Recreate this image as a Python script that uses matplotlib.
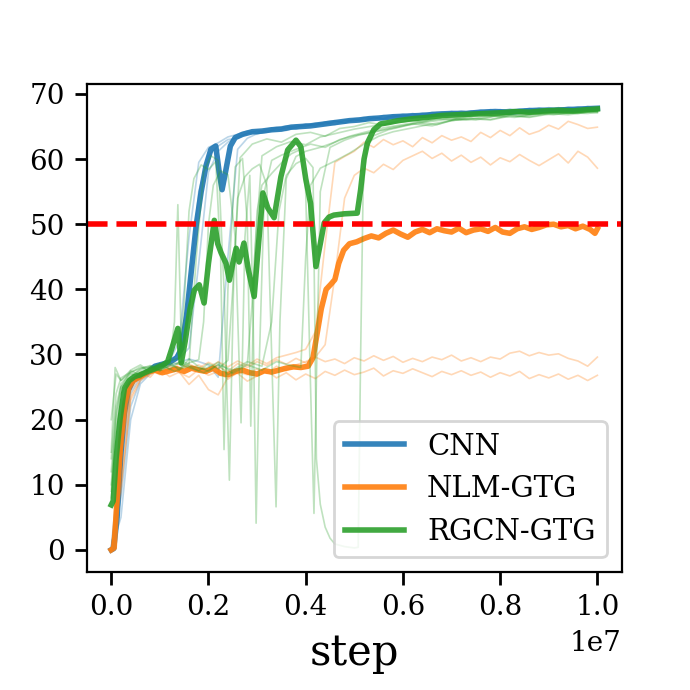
import numpy as np
import matplotlib
matplotlib.use("Agg")
import matplotlib.pyplot as plt

plt.rcParams['font.family'] = ['DejaVu Serif']

# ---------------- data (x in units of 1e7 steps) ----------------
grid = [0.00, 0.02, 0.04, 0.06, 0.08, 0.10, 0.12, 0.14, 0.16, 0.18, 0.20, 0.22, 0.24,
        0.26, 0.28, 0.30, 0.32, 0.34, 0.36, 0.38, 0.40, 0.42, 0.44, 0.46, 0.48, 0.50,
        0.52, 0.54, 0.56, 0.58, 0.60, 0.62, 0.64, 0.66, 0.68, 0.70, 0.72, 0.74, 0.76,
        0.78, 0.80, 0.82, 0.84, 0.86, 0.88, 0.90, 0.92, 0.94, 0.96, 0.98, 1.00]

cnn_run1 = [0.3, 16, 25.5, 26.8, 27.9, 28.6, 29.1, 32, 48, 59.5, 61.8, 62.5, 63.4, 63.8, 64.3, 64.1,
            64.6, 64.9, 64.7, 65.2, 65.0, 65.4, 65.6, 65.3, 65.9, 66.1, 65.8, 66.4, 66.2, 66.6, 66.5,
            66.9, 66.4, 67.0, 66.8, 67.2, 66.9, 67.3, 67.0, 67.4, 67.1, 67.5, 67.2, 67.6, 67.3, 67.7,
            67.4, 67.8, 67.5, 67.9, 67.6]
cnn_run2 = [0.0, 12, 24, 26.5, 27.5, 28.3, 28.9, 29.4, 31, 44, 58, 61.2, 62.6, 63.5, 63.9, 64.4,
            64.2, 64.8, 65.1, 64.9, 65.4, 65.2, 65.7, 65.9, 65.6, 66.2, 66.4, 66.1, 66.7, 66.5, 66.9,
            66.6, 67.1, 66.8, 67.2, 67.0, 67.4, 67.1, 67.5, 67.2, 67.6, 67.3, 67.7, 67.4, 67.8, 67.5,
            67.9, 67.6, 68.0, 67.7, 67.9]
cnn_run3 = [0.5, 8, 22, 26, 27.2, 28.0, 28.7, 30.5, 40, 55, 60.5, 62.0, 63.0, 63.2, 64.0, 63.8,
            64.4, 64.3, 64.9, 64.6, 65.1, 65.5, 65.2, 65.8, 65.5, 66.0, 65.9, 66.3, 66.0, 66.4, 66.7,
            66.3, 66.9, 66.6, 67.0, 66.7, 67.1, 66.9, 67.3, 67.0, 67.4, 67.1, 67.5, 67.3, 67.6, 67.4,
            67.7, 67.5, 67.8, 67.6, 67.8]
cnn_run4 = [0.0, 5, 20, 25.5, 27.0, 27.8, 28.2, 28.8, 29.3, 28.9, 28.4, 26.5, 45, 61.5, 63.2, 63.9,
            64.1, 64.6, 64.4, 64.9, 65.3, 65.0, 65.5, 65.7, 66.0, 65.8, 66.3, 66.5, 66.2, 66.8, 66.6,
            67.0, 66.7, 67.2, 66.9, 67.3, 67.0, 67.4, 67.2, 67.6, 67.3, 67.7, 67.4, 67.8, 67.5, 67.9,
            67.6, 68.0, 67.7, 68.1, 67.8]

nlm_run1 = [0.0, 14, 24.5, 26.8, 28.0, 27.1, 28.3, 27.6, 28.5, 27.9, 28.8, 28.1, 27.4, 28.6, 28.0,
            28.9, 28.3, 29.2, 28.5, 29.4, 28.7, 29.6, 28.9, 29.3, 28.6, 29.5, 29.0, 29.8, 29.1, 29.7,
            28.8, 29.4, 28.9, 29.6, 29.2, 29.9, 29.0, 29.5, 28.9, 29.6, 29.3, 30.2, 30.5, 29.8, 30.3,
            29.9, 30.1, 29.4, 29.0, 28.2, 29.6]
nlm_run2 = [0.0, 10, 23, 26.0, 26.9, 27.8, 26.6, 27.3, 25.4, 26.8, 24.6, 23.8, 26.5, 27.1, 25.9,
            26.7, 27.5, 26.4, 27.2, 26.1, 27.0, 26.3, 27.4, 26.8, 27.6, 26.9, 27.3, 27.9, 26.7, 27.5,
            27.1, 27.8, 27.2, 26.6, 27.4, 26.9, 27.5, 26.8, 27.3, 26.5, 27.2, 26.7, 27.4, 26.3, 26.9,
            26.4, 27.0, 26.2, 26.8, 26.0, 26.8]
nlm_run3 = [0.0, 15, 25, 27.3, 26.5, 28.2, 27.4, 28.7, 27.8, 28.4, 27.6, 28.9, 28.1, 29.0, 28.3,
            29.3, 28.6, 29.5, 29.9, 30.3, 30.8, 33.5, 47, 59.5, 60.4, 61.2, 62.6, 61.8, 63.0, 62.2,
            62.8, 61.9, 63.3, 62.5, 63.6, 62.9, 63.4, 62.7, 64.1, 63.3, 64.4, 63.6, 64.8, 63.8, 64.3,
            65.2, 64.6, 65.8, 65.3, 64.7, 64.9]
nlm_run4 = [0.0, 9, 23.5, 26.2, 27.6, 26.9, 28.0, 27.2, 26.5, 27.7, 26.8, 27.4, 26.2, 27.3, 26.9,
            27.8, 27.1, 28.2, 27.5, 28.4, 28.9, 29.6, 31.5, 42, 54, 57.5, 58.6, 57.9, 59.2, 58.4,
            59.8, 60.5, 61.2, 60.1, 60.9, 59.7, 60.6, 59.5, 60.3, 59.1, 60.2, 59.6, 60.7, 59.8, 59.0,
            59.9, 60.8, 59.4, 61.2, 60.3, 58.6]

rgcn_run1_x = [0, 0.01, 0.02, 0.04, 0.06, 0.08, 0.10, 0.12, 0.13, 0.137, 0.145, 0.16, 0.175, 0.19,
               0.205, 0.22, 0.232, 0.243, 0.252, 0.265, 0.29, 0.32, 0.35, 0.38, 0.41, 0.44, 0.47,
               0.50, 0.53, 0.56, 0.60, 0.64, 0.68, 0.72, 0.76, 0.80, 0.84, 0.88, 0.92, 0.96, 1.0]
rgcn_run1_y = [10, 20, 25, 27.5, 26.8, 28.2, 27.6, 28.8, 35, 53, 29, 28.5, 45, 58, 60.5, 59.8, 40,
               10.7, 42, 60.2, 62.3, 63.1, 62.6, 63.8, 64.1, 63.5, 64.7, 65.0, 65.6, 65.2, 66.1,
               65.7, 66.4, 66.2, 66.8, 66.5, 67.1, 66.9, 67.3, 67.0, 67.4]
rgcn_run2_x = [0, 0.008, 0.02, 0.04, 0.06, 0.08, 0.10, 0.12, 0.14, 0.15, 0.16, 0.17, 0.185, 0.20,
               0.215, 0.225, 0.232, 0.24, 0.255, 0.27, 0.28, 0.287, 0.295, 0.31, 0.34, 0.37, 0.40,
               0.43, 0.46, 0.50, 0.54, 0.58, 0.62, 0.66, 0.70, 0.74, 0.78, 0.82, 0.86, 0.90, 0.94,
               0.98, 1.0]
rgcn_run2_y = [15, 28, 26, 27.2, 28.1, 27.4, 28.6, 29.0, 29.5, 38, 52, 57, 59.1, 58.4, 59.6, 45,
               15.4, 40, 58.8, 60.1, 50, 19, 45, 60.5, 61.9, 62.7, 62.2, 63.4, 63.9, 64.6, 65.1,
               65.5, 65.9, 66.3, 66.0, 66.7, 66.5, 67.0, 66.8, 67.2, 67.0, 67.4, 67.3]
rgcn_run3_x = [0, 0.01, 0.02, 0.04, 0.06, 0.08, 0.10, 0.12, 0.14, 0.16, 0.18, 0.19, 0.2, 0.21,
               0.225, 0.24, 0.255, 0.267, 0.275, 0.285, 0.292, 0.298, 0.305, 0.315, 0.33, 0.35,
               0.38, 0.41, 0.44, 0.47, 0.50, 0.54, 0.58, 0.62, 0.66, 0.70, 0.74, 0.78, 0.82, 0.86,
               0.90, 0.94, 0.98, 1.0]
rgcn_run3_y = [8, 18, 24, 26.5, 27.8, 28.3, 27.5, 28.4, 27.9, 28.7, 29.2, 35, 50, 56, 58.2, 57.6,
               48, 19.5, 48, 57.5, 35, 4.1, 30, 55, 59.8, 60.6, 61.5, 62.3, 61.8, 63.0, 63.6, 64.2,
               64.9, 65.4, 65.1, 65.9, 66.2, 66.0, 66.6, 66.4, 66.9, 67.1, 67.0, 67.2]
rgcn_run4_x = [0, 0.01, 0.02, 0.04, 0.06, 0.08, 0.10, 0.12, 0.14, 0.16, 0.18, 0.20, 0.22, 0.24,
               0.25, 0.26, 0.275, 0.29, 0.305, 0.32, 0.33, 0.339, 0.347, 0.36, 0.38, 0.40, 0.43,
               0.46, 0.49, 0.52, 0.56, 0.60, 0.64, 0.68, 0.72, 0.76, 0.80, 0.84, 0.88, 0.92, 0.96,
               1.0]
rgcn_run4_y = [12, 22, 25.5, 27.1, 26.4, 27.9, 28.5, 27.7, 28.9, 28.2, 27.5, 28.6, 27.8, 29.1, 40,
               54, 57.3, 58.5, 59.2, 56, 30, 6.6, 35, 57, 60.4, 61.2, 61.8, 62.6, 63.5, 64.1, 64.8,
               65.3, 65.8, 66.2, 66.5, 66.9, 66.7, 67.1, 67.0, 67.3, 67.5, 67.6]
rgcn_run5_x = [0, 0.01, 0.02, 0.04, 0.06, 0.08, 0.10, 0.12, 0.14, 0.16, 0.18, 0.20, 0.22, 0.24,
               0.26, 0.28, 0.29, 0.30, 0.31, 0.33, 0.35, 0.37, 0.39, 0.40, 0.41, 0.417, 0.423,
               0.43, 0.45, 0.48, 0.51, 0.55, 0.59, 0.63, 0.67, 0.71, 0.75, 0.79, 0.83, 0.87, 0.91,
               0.95, 1.0]
rgcn_run5_y = [20, 27, 26, 27.6, 28.4, 27.3, 28.0, 28.8, 27.6, 29.3, 28.1, 27.4, 28.5, 26.9, 27.8,
               28.6, 38, 52, 56, 57.8, 59.4, 60.8, 61.5, 55, 25, 5.6, 30, 55, 61.8, 62.9, 63.7,
               64.3, 64.9, 65.6, 65.3, 66.2, 66.0, 66.6, 66.4, 67.0, 66.8, 67.2, 67.3]
rgcn_run6_x = [0, 0.01, 0.02, 0.04, 0.07, 0.10, 0.13, 0.16, 0.19, 0.22, 0.25, 0.28, 0.31, 0.33,
               0.345, 0.36, 0.38, 0.40, 0.415, 0.422, 0.43, 0.44, 0.45, 0.46, 0.48, 0.50, 0.508,
               0.513, 0.518, 0.525, 0.54, 0.57, 0.61, 0.65, 0.69, 0.73, 0.77, 0.81, 0.85, 0.89,
               0.93, 0.97, 1.0]
rgcn_run6_y = [14, 24, 26.4, 27.3, 28.1, 27.5, 28.7, 28.0, 27.2, 28.4, 27.6, 28.9, 28.2, 35, 52,
               57.5, 59.3, 60.1, 58.7, 14, 7, 3.5, 1.8, 0.9, 0.5, 0.3, 0.4, 30, 55, 61.5, 63.6,
               64.5, 65.2, 65.7, 66.1, 66.0, 66.5, 66.8, 66.6, 67.1, 67.0, 67.3, 67.4]
rgcn_run7_x = [0, 0.01, 0.02, 0.04, 0.07, 0.10, 0.13, 0.16, 0.19, 0.22, 0.25, 0.28, 0.31, 0.34,
               0.37, 0.39, 0.40, 0.41, 0.43, 0.46, 0.49, 0.52, 0.55, 0.58, 0.62, 0.66, 0.70, 0.74,
               0.78, 0.82, 0.86, 0.90, 0.94, 0.98, 1.0]
rgcn_run7_y = [9, 21, 25, 26.8, 27.9, 28.6, 27.4, 28.3, 27.7, 28.8, 27.1, 28.4, 27.6, 28.9, 28.3,
               28.0, 45, 56, 58.6, 59.7, 60.9, 62.3, 63.5, 64.2, 64.8, 65.4, 65.9, 66.3, 66.1, 66.7,
               66.5, 67.0, 66.8, 67.2, 67.1]

cnn_mean_x = [0.000, 0.005, 0.012, 0.020, 0.027, 0.035, 0.045, 0.06, 0.075, 0.09, 0.105, 0.12,
              0.135, 0.145, 0.155, 0.165, 0.175, 0.185, 0.195, 0.205, 0.215, 0.222, 0.228, 0.235,
              0.245, 0.255, 0.27, 0.29, 0.31, 0.33, 0.35, 0.37, 0.39, 0.41, 0.43, 0.45, 0.47, 0.49,
              0.51, 0.53, 0.55, 0.58, 0.61, 0.64, 0.67, 0.70, 0.73, 0.76, 0.79, 0.82, 0.85, 0.88,
              0.91, 0.94, 0.97, 1.00]
cnn_mean_y = [0.0, 0.2, 5, 15, 21, 24.5, 26, 26.8, 27.3, 28.2, 28.5, 28.8, 29.5, 31, 36, 43, 50,
              55, 59, 61.5, 62, 58, 55.3, 58, 62, 63.3, 63.8, 64.2, 64.3, 64.5, 64.6, 64.9, 65.0,
              65.1, 65.3, 65.5, 65.7, 65.9, 66.0, 66.2, 66.3, 66.5, 66.6, 66.7, 66.9, 67.0, 67.0,
              67.2, 67.3, 67.2, 67.4, 67.5, 67.5, 67.6, 67.7, 67.8]

nlm_mean_x = [0.000, 0.006, 0.012, 0.02, 0.028, 0.036, 0.045, 0.06, 0.075, 0.09, 0.105, 0.12,
              0.135, 0.15, 0.165, 0.18, 0.195, 0.21, 0.225, 0.24, 0.255, 0.27, 0.285, 0.30, 0.315,
              0.33, 0.345, 0.36, 0.375, 0.39, 0.405, 0.415, 0.423, 0.432, 0.442, 0.452, 0.46,
              0.468, 0.478, 0.49, 0.505, 0.52, 0.535, 0.55, 0.565, 0.58, 0.595, 0.61, 0.625, 0.64,
              0.655, 0.67, 0.685, 0.70, 0.715, 0.73, 0.745, 0.76, 0.775, 0.79, 0.805, 0.82, 0.835,
              0.85, 0.865, 0.88, 0.895, 0.91, 0.925, 0.94, 0.955, 0.97, 0.985, 0.995, 1.0]
nlm_mean_y = [0.0, 0.3, 8, 17, 22.5, 25, 26, 26.6, 27.3, 27.6, 27.2, 27.5, 27.8, 27.4, 27.9, 27.6,
              27.4, 27.9, 27.1, 26.9, 27.4, 27.6, 27.2, 27.0, 27.5, 27.3, 27.6, 27.9, 28.1, 28.0,
              28.2, 29.5, 33, 37, 40, 40.8, 41.5, 44, 46, 47, 47.3, 47.8, 48.2, 47.9, 48.6, 49.1,
              48.5, 48.0, 48.8, 49.2, 48.7, 49.3, 49.0, 48.8, 49.4, 48.7, 49.1, 49.3, 48.9, 49.5,
              48.8, 48.6, 49.3, 49.6, 49.2, 49.5, 49.9, 50.0, 49.6, 49.8, 49.3, 49.7, 49.2, 48.6,
              49.3]

rgcn_mean_x = [0.000, 0.004, 0.01, 0.018, 0.027, 0.037, 0.048, 0.06, 0.075, 0.09, 0.105, 0.116,
               0.125, 0.137, 0.144, 0.152, 0.162, 0.171, 0.181, 0.191, 0.2, 0.212, 0.219, 0.226,
               0.236, 0.243, 0.25, 0.257, 0.263, 0.273, 0.282, 0.294, 0.303, 0.312, 0.322, 0.335,
               0.349, 0.363, 0.38, 0.39, 0.40, 0.41, 0.421, 0.43, 0.438, 0.448, 0.458, 0.48, 0.506,
               0.513, 0.52, 0.527, 0.54, 0.554, 0.57, 0.59, 0.62, 0.65, 0.68, 0.71, 0.74, 0.77,
               0.80, 0.83, 0.86, 0.89, 0.92, 0.95, 0.98, 1.0]
rgcn_mean_y = [6.9, 7.5, 14, 20, 24.8, 26, 26.6, 26.9, 27.4, 27.8, 28.3, 28.9, 31, 34, 28.7, 32,
               37, 39.9, 40.7, 37.9, 44, 50.6, 47, 45.6, 44, 41.4, 44, 46.3, 44.2, 47.1, 43, 38.9,
               47, 54.8, 52.5, 51, 57.3, 61.4, 62.9, 61.9, 57, 53.2, 43.5, 47, 50.2, 51.1, 51.4,
               51.6, 51.7, 55.3, 60, 62.5, 64.5, 65.4, 65.6, 65.9, 66.2, 66.4, 66.7, 66.8, 66.9,
               67.0, 67.1, 67.3, 67.2, 67.4, 67.5, 67.4, 67.6, 67.7]

threshold = 50
labels = ['CNN', 'NLM-GTG', 'RGCN-GTG']
colors = ['tab:blue', 'tab:orange', 'tab:green']

# ---------------- plotting ----------------
S = 1e7
fig = plt.figure(figsize=(3.45, 3.45), dpi=200)
ax = fig.add_axes([0.126, 0.171, 0.775, 0.707])

thin_kw = dict(lw=0.6, alpha=0.3)
g = np.array(grid) * S
for r in [cnn_run1, cnn_run2, cnn_run3, cnn_run4]:
    ax.plot(g, r, color=colors[0], **thin_kw)
ax.plot(np.array(cnn_mean_x) * S, cnn_mean_y, color=colors[0], lw=2, alpha=0.9, label=labels[0])

for r in [nlm_run1, nlm_run2, nlm_run3, nlm_run4]:
    ax.plot(g, r, color=colors[1], **thin_kw)
ax.plot(np.array(nlm_mean_x) * S, nlm_mean_y, color=colors[1], lw=2, alpha=0.9, label=labels[1])

rg_runs = [(rgcn_run1_x, rgcn_run1_y), (rgcn_run2_x, rgcn_run2_y), (rgcn_run3_x, rgcn_run3_y),
           (rgcn_run4_x, rgcn_run4_y), (rgcn_run5_x, rgcn_run5_y), (rgcn_run6_x, rgcn_run6_y),
           (rgcn_run7_x, rgcn_run7_y)]
for rx, ry in rg_runs:
    ax.plot(np.array(rx) * S, ry, color=colors[2], **thin_kw)
ax.plot(np.array(rgcn_mean_x) * S, rgcn_mean_y, color=colors[2], lw=2, alpha=0.9, label=labels[2])

ax.axhline(threshold, color='red', ls='--', lw=2)

ax.set_xlim(-0.05 * S, 1.05 * S)
ax.set_ylim(-3.4, 71.5)
ax.set_yticks([0, 10, 20, 30, 40, 50, 60, 70])
ax.set_xticks([0, 0.2e7, 0.4e7, 0.6e7, 0.8e7, 1.0e7])
ax.tick_params(labelsize=10, length=4.5, width=1)
ax.xaxis.get_offset_text().set_fontsize(10)
ax.set_xlabel('step', fontsize=15)
ax.legend(loc='lower right', fontsize=10.5)

fig.savefig('out.png', dpi=200)
